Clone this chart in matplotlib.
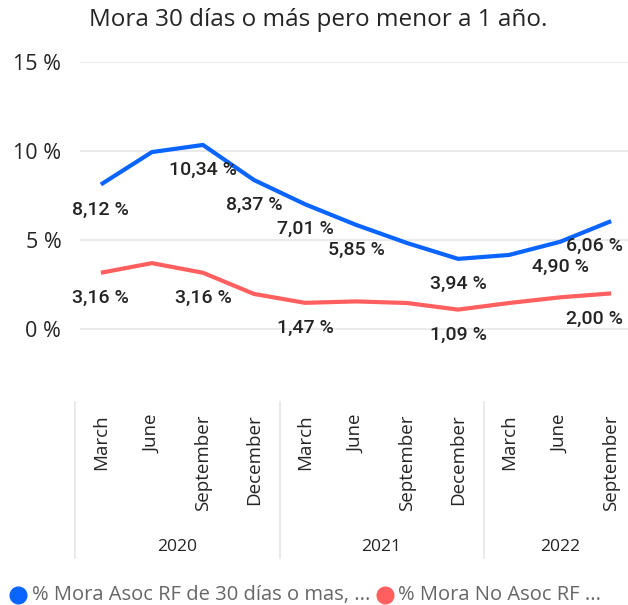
import matplotlib
matplotlib.use("Agg")
import matplotlib.pyplot as plt
from matplotlib.lines import Line2D

months = ["March", "June", "September", "December",
          "March", "June", "September", "December",
          "March", "June", "September"]
years = ["2020", "2021", "2022"]
year_groups = [(0, 3), (4, 7), (8, 10)]

asoc = [8.12, 9.94, 10.34, 8.37, 7.01, 5.85, 4.83, 3.94, 4.16, 4.90, 6.06]
no_asoc = [3.16, 3.70, 3.16, 1.97, 1.47, 1.55, 1.46, 1.09, 1.46, 1.78, 2.00]
asoc_labels = [0, 2, 3, 4, 5, 7, 9, 10]
no_asoc_labels = [0, 2, 4, 7, 10]

legend_names = ["% Mora Asoc RF de 30 días o mas, ...", "% Mora No Asoc RF ..."]

BLUE = "#0A64FF"
RED = "#FF5F5F"
W, H = 628, 605

fig = plt.figure(figsize=(W / 100, H / 100), dpi=100)
# axes from x=80..628 px, y=62..380 px
ax = fig.add_axes([80 / W, (H - 380) / H, (W - 80) / W, (380 - 62) / H])
ax.set_xlim(-0.41, 10.33)
ax.set_ylim(-51 / 17.8, 15)

x = list(range(len(months)))
ax.plot(x, asoc, color=BLUE, lw=3, solid_capstyle="butt", zorder=3)
ax.plot(x, no_asoc, color=RED, lw=3, solid_capstyle="butt", zorder=3)

label_font = dict(family="Roboto", fontsize=14, color="#252423", weight="medium")
for series, idxs in [(asoc, asoc_labels), (no_asoc, no_asoc_labels)]:
    for i in idxs:
        xi = i if i < 10 else 9.68
        ax.annotate(f"{series[i]:.2f} %".replace(".", ","), (xi, series[i]),
                    xytext=(0, -25), textcoords="offset pixels",
                    ha="center", va="center", **label_font)

ax.set_yticks([0, 5, 10, 15])
ax.set_yticklabels(["0 %", "5 %", "10 %", "15 %"], family="Open Sans",
                   fontsize=15.5, color="#252423")
ax.tick_params(axis="y", length=0, pad=13.5)
ax.set_xticks([])
ax.yaxis.grid(True, color="#E6E6E6", lw=1.2)
ax.set_axisbelow(True)
for s in ax.spines.values():
    s.set_visible(False)

xt = ax.get_xaxis_transform()
for i, m in enumerate(months):
    ax.text(i, -0.107, m, rotation=90, ha="center", va="top", transform=xt,
            family="Open Sans", fontsize=13.5, color="#252423")
for (a, b), yr in zip(year_groups, years):
    ax.text((a + b) / 2, -0.525, yr, ha="center", va="center", transform=xt,
            family="Open Sans", fontsize=12.6, color="#252423")
for sx in [-0.5, 3.5, 7.5]:
    ax.plot([sx, sx], [-0.069, -0.56], transform=xt, color="#E6E6E6",
            lw=1.2, clip_on=False)

fig.text(318 / W, 1 - 20 / H, "Mora 30 días o más pero menor a 1 año.",
         ha="center", va="center", family="Open Sans", fontsize=17.5,
         color="#252423")

# legend
ly = 1 - 595 / H
for cx, tx, col, name in [(18, 32, BLUE, legend_names[0]),
                          (385, 398, RED, legend_names[1])]:
    fig.add_artist(Line2D([cx / W], [ly], marker="o", markersize=12,
                          color=col, transform=fig.transFigure))
    fig.text(tx / W, ly, name, ha="left", va="center", family="Open Sans",
             fontsize=14.5, color="#666666")

fig.savefig("out.png", dpi=100)
